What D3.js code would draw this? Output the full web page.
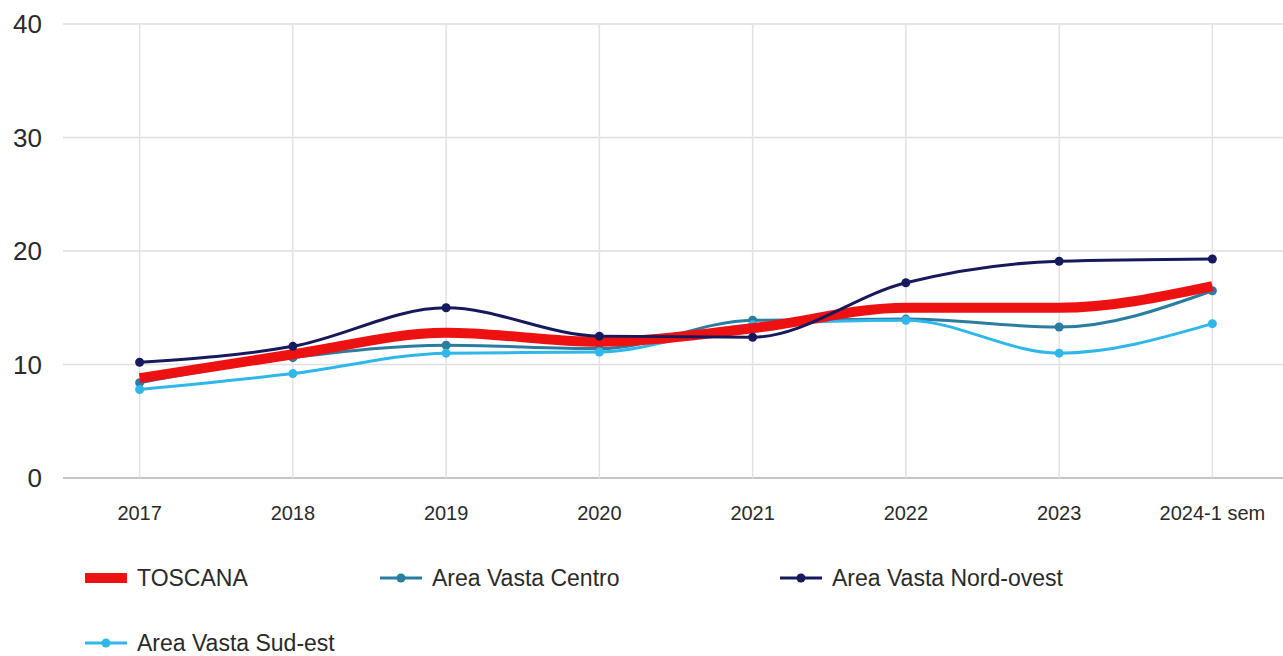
<!DOCTYPE html>
<html>
<head>
<meta charset="utf-8">
<script src="https://cdn.jsdelivr.net/npm/d3@7"></script>
<style>
  body { margin: 0; background: #fff; }
  text { font-family: "Liberation Sans", Arial, sans-serif; }
</style>
</head>
<body>
<div class="d3-chart"></div>
<script>
const categories = ["2017", "2018", "2019", "2020", "2021", "2022", "2023", "2024-1 sem"];
const seriesNames = ["TOSCANA", "Area Vasta Centro", "Area Vasta Nord-ovest", "Area Vasta Sud-est"];
const toscana   = [8.8, 10.9, 12.8, 12.0, 13.2, 15.0, 15.0, 16.9];
const centro    = [8.4, 10.6, 11.7, 11.4, 13.9, 14.0, 13.3, 16.5];
const nordOvest = [10.2, 11.6, 15.0, 12.5, 12.4, 17.2, 19.1, 19.3];
const sudEst    = [7.8, 9.2, 11.0, 11.1, 13.5, 13.9, 11.0, 13.6];
const yTicks = [0, 10, 20, 30, 40];

const width = 1283, height = 656;
const margin = {top: 24, left: 63, right: -6, bottom: 178};

const svg = d3.select(".d3-chart")
  .append("svg")
  .attr("width", width)
  .attr("height", height);

const x = d3.scalePoint()
  .domain(categories)
  .range([margin.left, width - margin.right])
  .padding(0.5);

const y = d3.scaleLinear()
  .domain([0, 40])
  .range([height - margin.bottom, margin.top]);

// horizontal grid
svg.append("g")
  .selectAll("line")
  .data(yTicks)
  .join("line")
    .attr("x1", margin.left)
    .attr("x2", width)
    .attr("y1", d => y(d))
    .attr("y2", d => y(d))
    .attr("stroke", d => d === 0 ? "#c4c4c4" : "#dedede")
    .attr("stroke-width", d => d === 0 ? 2 : 1.5);

// vertical grid
svg.append("g")
  .selectAll("line")
  .data(categories)
  .join("line")
    .attr("x1", d => x(d))
    .attr("x2", d => x(d))
    .attr("y1", y(40))
    .attr("y2", y(0))
    .attr("stroke", "#e2e2e2")
    .attr("stroke-width", 1.5);

// y labels
svg.append("g")
  .selectAll("text")
  .data(yTicks)
  .join("text")
    .attr("x", 42)
    .attr("y", d => y(d))
    .attr("dy", "0.36em")
    .attr("text-anchor", "end")
    .attr("font-size", 26)
    .attr("fill", "#2a2a2a")
    .text(d => d);

// x labels
svg.append("g")
  .selectAll("text")
  .data(categories)
  .join("text")
    .attr("x", d => x(d))
    .attr("y", 520)
    .attr("text-anchor", "middle")
    .attr("font-size", 20)
    .attr("fill", "#2a2a2a")
    .text(d => d);

const series = [
  {name: seriesNames[0], values: toscana,   color: "#ee1111", width: 10, r: 0},
  {name: seriesNames[1], values: centro,    color: "#2a7d9e", width: 3,  r: 4.5},
  {name: seriesNames[2], values: nordOvest, color: "#161a5c", width: 3,  r: 4.5},
  {name: seriesNames[3], values: sudEst,    color: "#2fb7ea", width: 3,  r: 4.5}
];

const line = d3.line()
  .x((d, i) => x(categories[i]))
  .y(d => y(d))
  .curve(d3.curveMonotoneX);

// draw in order: centro, sud-est, toscana, nord-ovest looked layered like this
const drawOrder = [1, 3, 0, 2];
drawOrder.forEach(k => {
  const s = series[k];
  svg.append("path")
    .datum(s.values)
    .attr("fill", "none")
    .attr("stroke", s.color)
    .attr("stroke-width", s.width)
    .attr("stroke-linejoin", "round")
    .attr("d", line);
  if (s.r > 0) {
    svg.append("g")
      .selectAll("circle")
      .data(s.values)
      .join("circle")
        .attr("cx", (d, i) => x(categories[i]))
        .attr("cy", d => y(d))
        .attr("r", s.r)
        .attr("fill", s.color);
  }
});

// legend
const legendPos = [
  {x: 85, y: 578}, {x: 380, y: 578}, {x: 780, y: 578}, {x: 85, y: 643}
];
const legend = svg.append("g")
  .selectAll("g")
  .data(series)
  .join("g")
    .attr("transform", (d, i) => `translate(${legendPos[i].x},${legendPos[i].y})`);

legend.append("line")
  .attr("x1", 0).attr("x2", 42)
  .attr("y1", 0).attr("y2", 0)
  .attr("stroke", d => d.color)
  .attr("stroke-width", d => d.width);

legend.filter(d => d.r > 0)
  .append("circle")
  .attr("cx", 21).attr("cy", 0)
  .attr("r", 4.5)
  .attr("fill", d => d.color);

legend.append("text")
  .attr("x", 52)
  .attr("y", 0)
  .attr("dy", "0.36em")
  .attr("font-size", 23)
  .attr("fill", "#2a2a2a")
  .text(d => d.name);
</script>
</body>
</html>
